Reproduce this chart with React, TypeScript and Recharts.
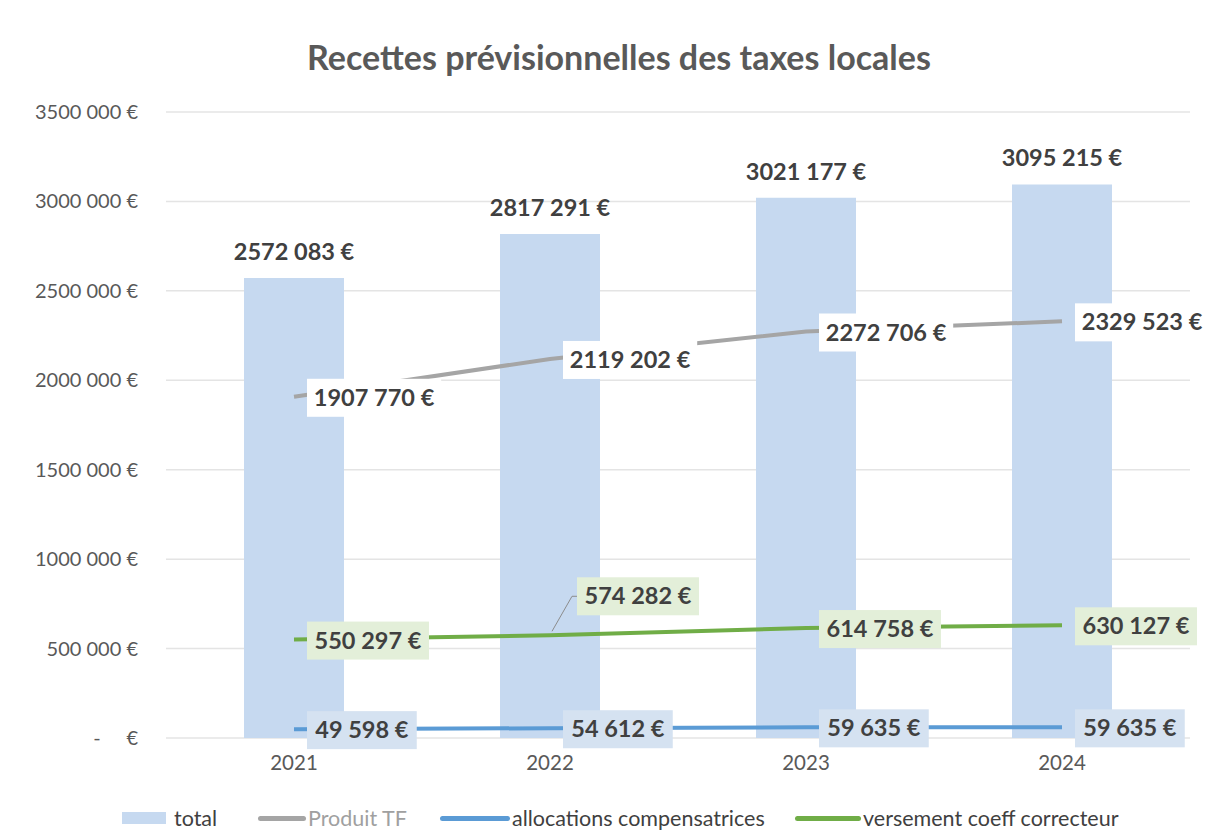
import React from 'react';
import { ComposedChart, Bar, Line, XAxis, YAxis, CartesianGrid, LabelList } from 'recharts';

const years = ['2021', '2022', '2023', '2024'];
const total = [2572083, 2817291, 3021177, 3095215];
const produitTF = [1907770, 2119202, 2272706, 2329523];
const allocations = [49598, 54612, 59635, 59635];
const versement = [550297, 574282, 614758, 630127];
const yTicks = [0, 500000, 1000000, 1500000, 2000000, 2500000, 3000000, 3500000];

const data = years.map((y, i) => ({
  year: y,
  total: total[i],
  produitTF: produitTF[i],
  allocations: allocations[i],
  versement: versement[i],
}));

const FONT = 'Lato, "Open Sans", sans-serif';
const TEXT = '#404040';

const fmt = (v: number) => {
  if (v === 0) return '-\u00a0\u00a0\u00a0\u00a0\u00a0€';
  const th = Math.floor(v / 1000);
  const rest = String(v % 1000).padStart(3, '0');
  return `${th} ${rest} €`;
};

const approxWidth = (s: string, size: number) => s.length * size * 0.52;

const makeBoxLabel = (bg: string, leaderIndex: number | null) => (props: any) => {
  const { x, y, value, index } = props;
  if (x == null || y == null) return null;
  const txt = fmt(Number(value));
  const fs = 23.5;
  const w = approxWidth(txt, fs) + 12;
  const h = 38;
  let bx = x + 13;
  let by = y - h / 2 + 1;
  let leader = null;
  if (leaderIndex !== null && index === leaderIndex) {
    bx = x + 27;
    by = y - 58;
    leader = (
      <polyline
        points={`${x + 2},${y - 4} ${x + 22},${by + h / 2} ${bx},${by + h / 2}`}
        fill="none"
        stroke="#8c8c8c"
        strokeWidth={1}
      />
    );
  }
  return (
    <g>
      {leader}
      <rect x={bx} y={by} width={w} height={h} fill={bg} />
      <text
        x={bx + w / 2}
        y={by + h / 2 + 8}
        textAnchor="middle"
        fontFamily={FONT}
        fontWeight={700}
        fontSize={fs}
        fill={TEXT}
      >
        {txt}
      </text>
    </g>
  );
};

const TotalLabel = (props: any) => {
  const { x, y, width, value } = props;
  return (
    <text
      x={x + width / 2}
      y={y - 18}
      textAnchor="middle"
      fontFamily={FONT}
      fontWeight={700}
      fontSize={23.5}
      fill={TEXT}
    >
      {fmt(Number(value))}
    </text>
  );
};

const YTick = (props: any) => {
  const { y, payload } = props;
  return (
    <text x={138} y={y + 7} textAnchor="end" fontFamily={FONT} fontSize={20} fill="#595959">
      {fmt(payload.value)}
    </text>
  );
};

const XTick = (props: any) => {
  const { x, y, payload } = props;
  return (
    <text x={x} y={y + 24} textAnchor="middle" fontFamily={FONT} fontSize={20.5} fill="#595959">
      {payload.value}
    </text>
  );
};

const legendItems = [
  { label: 'total', kind: 'rect', color: '#c6d9f0', text: TEXT, left: 122, sw: 44 },
  { label: 'Produit TF', kind: 'line', color: '#a5a5a5', text: '#a0a0a0', left: 258, sw: 48 },
  { label: 'allocations compensatrices', kind: 'line', color: '#5b9bd5', text: TEXT, left: 440, sw: 70 },
  { label: 'versement coeff correcteur', kind: 'line', color: '#70ad47', text: TEXT, left: 795, sw: 66 },
];

export default function App() {
  return (
    <div style={{ position: 'absolute', left: 0, top: 0, width: 1210, height: 838, background: '#fff' }}>
      <div
        style={{
          position: 'absolute',
          left: 0,
          width: 1238,
          top: 36,
          textAlign: 'center',
          fontFamily: FONT,
          fontWeight: 700,
          fontSize: 34,
          color: '#595959',
        }}
      >
        Recettes prévisionnelles des taxes locales
      </div>
      <ComposedChart
        width={1210}
        height={838}
        data={data}
        margin={{ top: 112, right: 20, bottom: 60, left: 0 }}
      >
        <CartesianGrid vertical={false} stroke="#e4e4e4" strokeWidth={1.5} />
        <XAxis dataKey="year" axisLine={false} tickLine={false} height={40} tick={<XTick />} />
        <YAxis
          width={166}
          domain={[0, 3500000]}
          ticks={yTicks}
          axisLine={false}
          tickLine={false}
          tick={<YTick />}
        />
        <Bar dataKey="total" fill="#c6d9f0" barSize={100} isAnimationActive={false}>
          <LabelList dataKey="total" content={<TotalLabel />} />
        </Bar>
        <Line
          dataKey="produitTF"
          stroke="#a5a5a5"
          strokeWidth={4}
          dot={false}
          type="linear"
          isAnimationActive={false}
        >
          <LabelList dataKey="produitTF" content={makeBoxLabel('#ffffff', null)} />
        </Line>
        <Line
          dataKey="allocations"
          stroke="#5b9bd5"
          strokeWidth={4}
          dot={false}
          type="linear"
          isAnimationActive={false}
        >
          <LabelList dataKey="allocations" content={makeBoxLabel('#d5e2f1', null)} />
        </Line>
        <Line
          dataKey="versement"
          stroke="#70ad47"
          strokeWidth={4}
          dot={false}
          type="linear"
          isAnimationActive={false}
        >
          <LabelList dataKey="versement" content={makeBoxLabel('#e3efd9', 1)} />
        </Line>
      </ComposedChart>
      {legendItems.map((it) => (
        <div
          key={it.label}
          style={{
            position: 'absolute',
            top: 805,
            left: it.left,
            display: 'flex',
            alignItems: 'center',
            fontFamily: FONT,
            fontSize: 21.5,
            color: it.text,
            whiteSpace: 'nowrap',
          }}
        >
          <span
            style={{
              display: 'inline-block',
              width: it.sw,
              height: it.kind === 'rect' ? 12 : 5,
              background: it.color,
              borderRadius: it.kind === 'rect' ? 0 : 3,
              marginRight: it.kind === 'rect' ? 8 : 2,
            }}
          />
          <span>{it.label}</span>
        </div>
      ))}
    </div>
  );
}
